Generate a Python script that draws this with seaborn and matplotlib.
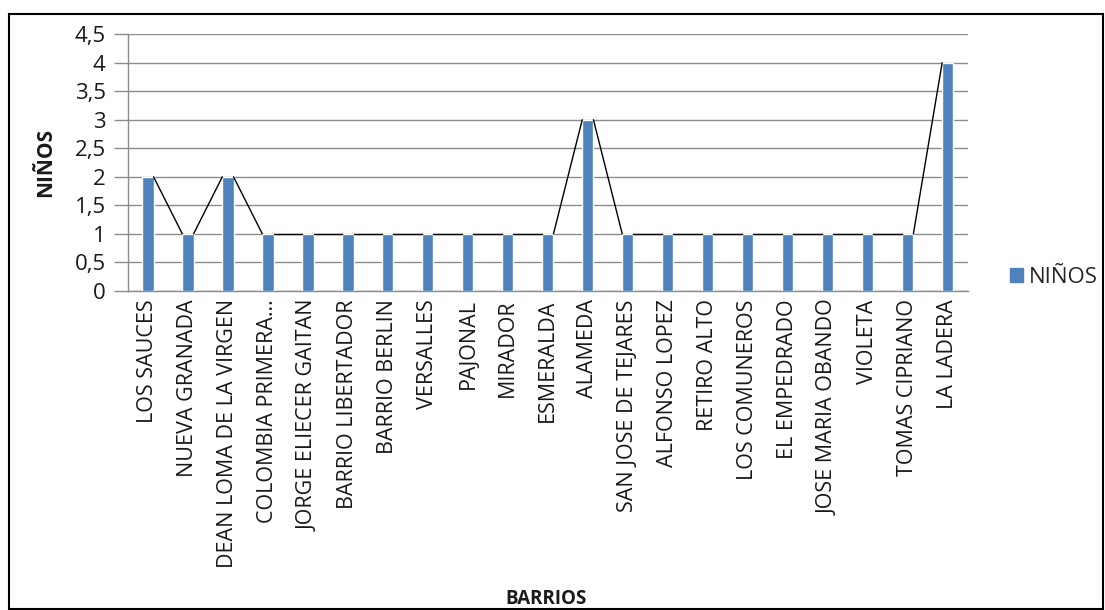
import matplotlib
matplotlib.use("Agg")
import matplotlib.pyplot as plt
import matplotlib.patches as mpatches
import seaborn as sns
import pandas as pd

# Datos del gráfico
barrios = [
    "LOS SAUCES", "NUEVA GRANADA", "DEAN LOMA DE LA VIRGEN", "COLOMBIA PRIMERA…",
    "JORGE ELIECER GAITAN", "BARRIO LIBERTADOR", "BARRIO BERLIN", "VERSALLES",
    "PAJONAL", "MIRADOR", "ESMERALDA", "ALAMEDA", "SAN JOSE DE TEJARES",
    "ALFONSO LOPEZ", "RETIRO ALTO", "LOS COMUNEROS", "EL EMPEDRADO",
    "JOSE MARIA OBANDO", "VIOLETA", "TOMAS CIPRIANO", "LA LADERA",
]
ninos = [2, 1, 2, 1, 1, 1, 1, 1, 1, 1, 1, 3, 1, 1, 1, 1, 1, 1, 1, 1, 4]
y_ticks = [0, 0.5, 1, 1.5, 2, 2.5, 3, 3.5, 4, 4.5]
y_tick_labels = ["0", "0,5", "1", "1,5", "2", "2,5", "3", "3,5", "4", "4,5"]

BAR_COLOR = "#4F81BD"
GRID_COLOR = "#8C8C8C"
TEXT_COLOR = "#1a1a1a"

df = pd.DataFrame({"BARRIOS": barrios, "NIÑOS": ninos})

sns.set_style("white")
plt.rcParams["font.family"] = ["Open Sans", "DejaVu Sans"]

fig = plt.figure(figsize=(11.05, 6.10), dpi=100)
ax = fig.add_axes([0.1158, 0.523, 0.760, 0.421])

sns.barplot(data=df, x="BARRIOS", y="NIÑOS", color=BAR_COLOR, width=0.28,
            saturation=1, ax=ax, zorder=3)

# líneas de serie: de la esquina superior derecha de cada barra a la izquierda de la siguiente
bars = ax.patches
for a, b in zip(bars[:-1], bars[1:]):
    ax.plot([a.get_x() + a.get_width(), b.get_x()],
            [a.get_height(), b.get_height()],
            color="black", lw=1.0, zorder=4)

ax.set_xlim(-0.5, len(barrios) - 0.5)
ax.set_ylim(0, 4.5)
ax.set_yticks(y_ticks)
ax.set_yticklabels(y_tick_labels, fontsize=16, color=TEXT_COLOR)
ax.set_xticks(range(len(barrios)))
ax.set_xticklabels(barrios, rotation=90, fontsize=15.5, color=TEXT_COLOR)
ax.tick_params(axis="y", which="major", length=10, width=1, color=GRID_COLOR,
               left=True, pad=6)
ax.tick_params(axis="x", length=0, pad=6)

ax.grid(axis="y", color=GRID_COLOR, lw=1, zorder=0)
ax.set_axisbelow(True)
for side in ["top", "right"]:
    ax.spines[side].set_visible(False)
for side in ["left", "bottom"]:
    ax.spines[side].set_color(GRID_COLOR)
    ax.spines[side].set_linewidth(1)

ax.set_xlabel("")
ax.set_ylabel("")
fig.text(0.041, 0.733, "NIÑOS", rotation=90, ha="center", va="center",
         fontsize=15, fontweight="bold", color=TEXT_COLOR)
fig.text(0.494, 0.018, "BARRIOS", ha="center", va="center",
         fontsize=13.5, fontweight="bold", color=TEXT_COLOR)

# leyenda
handle = mpatches.Patch(color=BAR_COLOR, label="NIÑOS")
fig.legend(handles=[handle], loc="center left", bbox_to_anchor=(0.914, 0.545),
           frameon=False, fontsize=16, handlelength=0.6, handleheight=0.6,
           handletextpad=0.25, borderpad=0, borderaxespad=0)

# borde exterior
fig.patches.append(mpatches.Rectangle((9 / 1105, 1 / 610), 1094 / 1105, 595 / 610,
                                      transform=fig.transFigure, fill=False,
                                      edgecolor="black", lw=1.5))

fig.savefig("out.png", dpi=100, facecolor="white")
plt.close(fig)
